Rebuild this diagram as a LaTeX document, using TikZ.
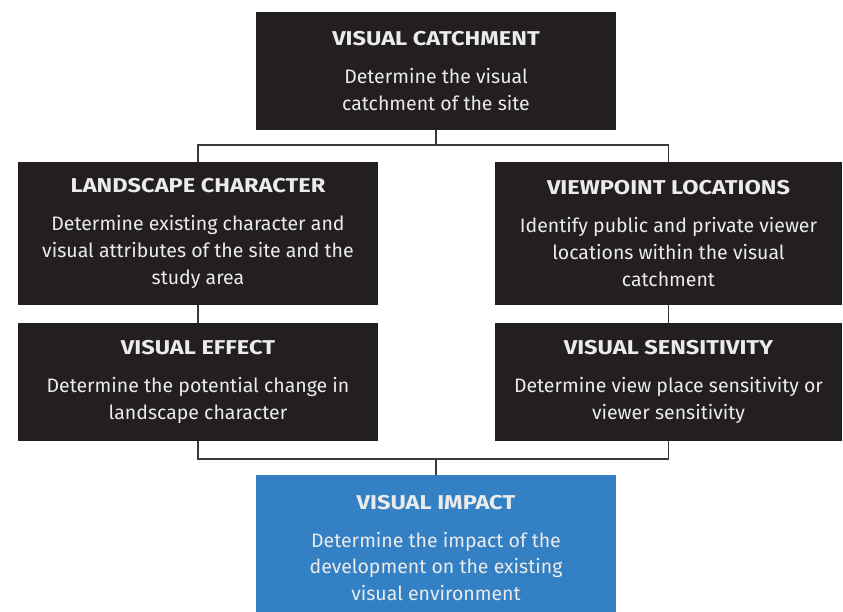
\documentclass[tikz,border=0pt]{standalone}
\usepackage{fontspec}
\setmainfont{Fira Sans}
\newfontfamily\stagefont{Fira Sans}[FakeStretch=1.18]
\definecolor{boxdark}{HTML}{231F20}
\definecolor{boxblue}{HTML}{3380C4}
\definecolor{linkgray}{HTML}{3A3A3A}
\newcommand{\stagehead}[1]{{\stagefont\fontsize{20}{23}\selectfont\bfseries #1}\\[11pt]}
\begin{document}
\begin{tikzpicture}[x=1pt,y=1pt,
  stage/.style={fill=boxdark,text=white!92!black,inner sep=0pt,align=center,font=\fontsize{19.5}{26.8}\selectfont},
  link/.style={draw=linkgray,line width=1.6pt}]
\useasboundingbox (0,0) rectangle (843,612);
\node [stage,minimum width=360,minimum height=118] (vc) at (436,541) {\stagehead{VISUAL CATCHMENT}Determine the visual\\catchment of the site};
\node [stage,minimum width=360,minimum height=143] (lc) at (198,378.5) {\stagehead{LANDSCAPE CHARACTER}Determine existing character and\\visual attributes of the site and the\\study area};
\node [stage,minimum width=347,minimum height=143] (vl) at (668.5,378.5) {\stagehead{VIEWPOINT LOCATIONS}Identify public and private viewer\\locations within the visual\\catchment};
\node [stage,minimum width=360,minimum height=118] (ve) at (198,230) {\stagehead{VISUAL EFFECT}Determine the potential change in\\landscape character};
\node [stage,minimum width=347,minimum height=118] (vs) at (668.5,230) {\stagehead{VISUAL SENSITIVITY}Determine view place sensitivity or\\viewer sensitivity};
\node [stage,fill=boxblue,minimum width=360,minimum height=146] (vi) at (436,64) {\stagehead{VISUAL IMPACT}Determine the impact of the\\development on the existing\\visual environment};
\coordinate (jt) at (436,467); \coordinate (jb) at (436,153);
\draw [link] (vc.south) -- (jt); \draw [link] (lc.north) |- (jt) -| (vl.north);
\draw [link] (lc.south) -- (ve.north); \draw [link] (vl.south) -- (vs.north);
\draw [link] (ve.south) |- (jb) -| (vs.south); \draw [link] (jb) -- (vi.north);
\end{tikzpicture}
\end{document}
